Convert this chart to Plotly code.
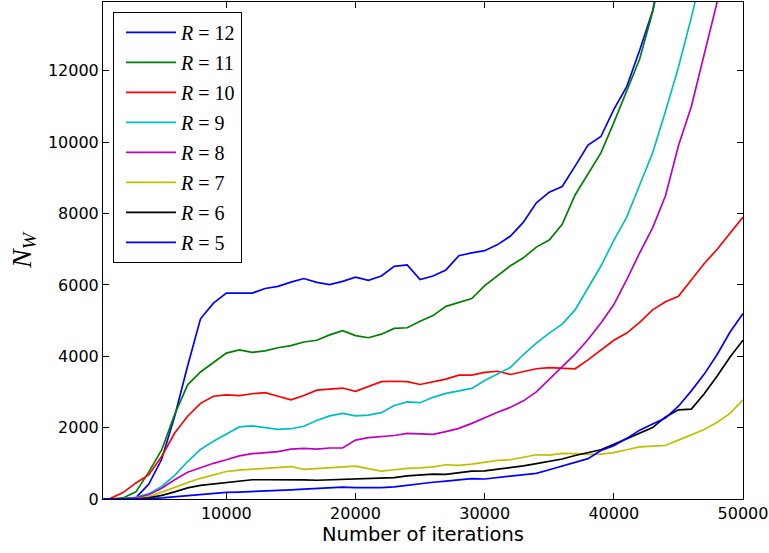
import plotly.graph_objects as go

ITER = [500, 1000, 2000, 3000, 4000, 5000, 6000, 7000, 8000, 9000, 10000,
        11000, 12000, 13000, 14000, 15000, 16000, 17000, 18000, 19000, 20000,
        21000, 22000, 23000, 24000, 25000, 26000, 27000, 28000, 29000, 30000,
        31000, 32000, 33000, 34000, 35000, 36000, 37000, 38000, 39000, 40000,
        41000, 42000, 43000, 44000, 45000, 46000, 47000, 48000, 49000, 50000]

R12 = [0, 0, 10, 40, 420, 1120, 2320, 3730, 5050, 5490, 5770, 5770, 5770, 5900, 5960,
       6080, 6180, 6070, 6010, 6100, 6220, 6130, 6250, 6520, 6560, 6150, 6250, 6420,
       6820, 6900, 6960, 7130, 7370, 7760, 8300, 8600, 8760, 9330, 9920, 10160, 10920,
       11560, 12580, 13680, 15400]
R11 = [0, 0, 30, 200, 760, 1380, 2370, 3200, 3560, 3820, 4090, 4180, 4110, 4150, 4240,
       4300, 4400, 4450, 4600, 4720, 4580, 4520, 4620, 4780, 4800, 4980, 5140, 5400,
       5500, 5620, 5980, 6250, 6540, 6760, 7060, 7260, 7700, 8520, 9130, 9700, 10550,
       11420, 12330, 13650, 15300]
R10 = [0, 10, 180, 450, 680, 1200, 1850, 2320, 2680, 2880, 2920, 2900, 2950, 2980, 2880,
       2780, 2900, 3050, 3080, 3110, 3020, 3150, 3290, 3300, 3290, 3210, 3280, 3360,
       3470, 3470, 3550, 3580, 3490, 3560, 3650, 3680, 3670, 3650, 3900, 4180, 4450,
       4650, 4950, 5300, 5530, 5680, 6150, 6600, 7000, 7450, 7900]
R9 = [0, 0, 10, 50, 150, 350, 660, 1050, 1390, 1620, 1820, 2020, 2050, 1990, 1950,
      1970, 2040, 2200, 2330, 2400, 2330, 2350, 2420, 2620, 2720, 2700, 2850, 2960,
      3030, 3100, 3320, 3500, 3690, 4050, 4370, 4650, 4900, 5300, 5900, 6530, 7250,
      7900, 8800, 9700, 10870, 12100, 13500, 15000]
R8 = [0, 0, 5, 30, 120, 300, 540, 750, 880, 1000, 1100, 1210, 1270, 1300, 1330,
      1400, 1420, 1400, 1430, 1430, 1650, 1720, 1740, 1780, 1840, 1820, 1810, 1890,
      1980, 2120, 2280, 2430, 2570, 2750, 3000, 3350, 3700, 4060, 4470, 4930, 5450,
      6150, 6900, 7600, 8500, 9900, 11000, 12450, 13900, 15400]
R7 = [0, 0, 0, 10, 60, 200, 340, 460, 580, 680, 770, 810, 840, 870, 890,
      910, 830, 850, 860, 900, 920, 850, 780, 820, 860, 870, 900, 960,
      940, 980, 1030, 1080, 1100, 1160, 1240, 1230, 1280, 1270, 1250, 1260, 1300,
      1380, 1460, 1480, 1500, 1650, 1800, 1950, 2150, 2400, 2780]
R6 = [0, 0, 0, 5, 30, 100, 200, 310, 380, 420, 450, 500, 540, 540, 545,
      540, 535, 525, 540, 545, 560, 580, 590, 600, 650, 680, 700, 690,
      740, 780, 790, 830, 870, 930, 990, 1060, 1120, 1220, 1290, 1380, 1530,
      1680, 1830, 2000, 2300, 2500, 2520, 2950, 3450, 3980, 4450]
R5 = [0, 0, 0, 0, 10, 30, 60, 95, 125, 160, 185, 195, 205, 220, 240,
      255, 275, 295, 310, 335, 320, 310, 320, 340, 390, 420, 470, 500,
      540, 570, 560, 600, 640, 660, 720, 820, 920, 1030, 1130, 1360, 1490,
      1700, 1930, 2100, 2270, 2600, 3030, 3500, 4050, 4680, 5200]

SERIES = [("12", R12, "#0000ff"), ("11", R11, "#008000"), ("10", R10, "#ff0000"),
          ("9", R9, "#00bfbf"), ("8", R8, "#bf00bf"), ("7", R7, "#bfbf00"),
          ("6", R6, "#000000"), ("5", R5, "#0000ff")]

fig = go.Figure()
for lab, vals, col in SERIES:
    fig.add_trace(go.Scatter(
        x=ITER[:len(vals)], y=vals, mode="lines",
        line=dict(color=col, width=1.7),
        name="<i>R</i>\u2005=\u2005" + lab,
        legendgroup=lab,
    ))

axis_common = dict(
    showline=True, linecolor="black", linewidth=1, mirror="allticks",
    ticks="inside", ticklen=6, tickcolor="black", tickwidth=1,
    showgrid=False, zeroline=False,
    tickfont=dict(family="DejaVu Sans", size=16, color="black"),
)

fig.update_layout(
    width=769, height=553,
    margin=dict(l=103, r=26, t=2, b=54),
    paper_bgcolor="white", plot_bgcolor="white",
    xaxis=dict(range=[450, 50000], tickvals=[10000, 20000, 30000, 40000, 50000],
               ticktext=["10000", "20000", "30000", "40000", "50000"],
               title=dict(text="Number of iterations",
                          font=dict(family="DejaVu Sans", size=19.5, color="black"),
                          standoff=2),
               **axis_common),
    yaxis=dict(range=[0, 13930], tickvals=[0, 2000, 4000, 6000, 8000, 10000, 12000],
               ticktext=["0", "2000", "4000", "6000", "8000", "10000", "12000"],
               title=dict(text="<i>N</i><sub><i>W</i></sub>",
                          font=dict(family="Liberation Serif", size=28, color="black"),
                          standoff=8),
               **axis_common),
    legend=dict(x=0.0156, y=0.98, xanchor="left", yanchor="top",
                bordercolor="black", borderwidth=1, bgcolor="white",
                font=dict(family="Liberation Serif", size=20, color="black"),
                traceorder="grouped", tracegroupgap=1, itemwidth=50,
                indentation=7),
    showlegend=True,
)

fig.write_html("out.html")
